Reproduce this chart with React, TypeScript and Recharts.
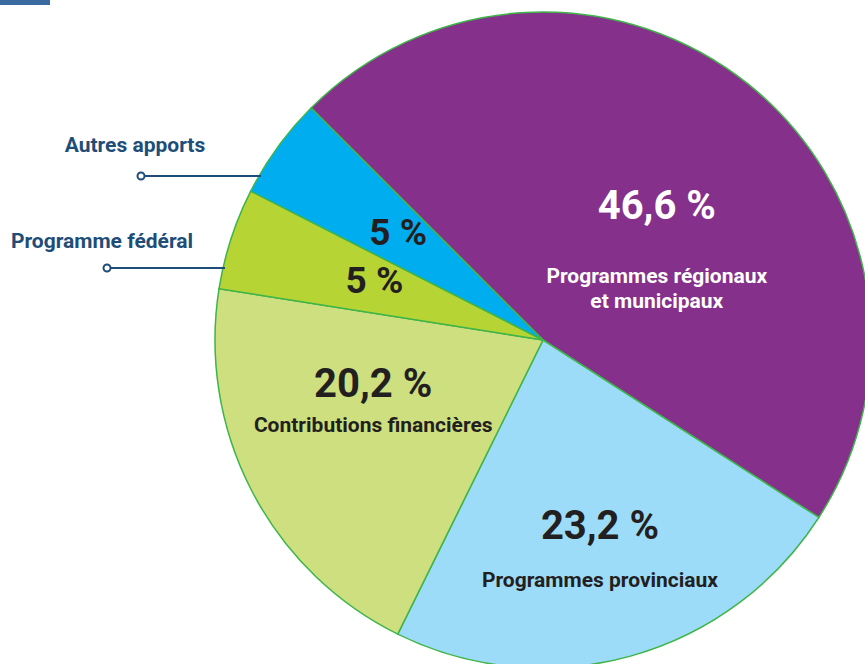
import { PieChart, Pie, Cell } from 'recharts'

// parts of the total, in %
const categories = [
  'Programmes régionaux et municipaux',
  'Programmes provinciaux',
  'Contributions financières',
  'Programme fédéral',
  'Autres apports',
]
const shares = [46.6, 23.2, 20.2, 5, 5]
const shareLabels = ['46,6 %', '23,2 %', '20,2 %', '5 %', '5 %']
const innerCaptions = [['Programmes régionaux', 'et municipaux'], ['Programmes provinciaux'], ['Contributions financières'], [], []]
const sideCaptions = ['', '', '', 'Programme fédéral', 'Autres apports']

const colors = ['#85308b', '#9ddcf8', '#cddf7e', '#b6d433', '#00aeef']
const textColors = ['#ffffff', '#231f20', '#231f20', '#231f20', '#231f20']

// label placement: radius and angle shift from mid angle
const labelPos = [
  { r: 166, dA: -4.4, size: 40, gaps: [64, 89] },
  { r: 207, dA: 0.5, size: 40, gaps: [48] },
  { r: 179, dA: -8.9, size: 40, gaps: [35] },
  { r: 175, dA: 2.5, size: 37, gaps: [] },
  { r: 173, dA: 2.8, size: 37, gaps: [] },
]
// side captions: text anchor and leader line height
const sidePos = [null, null, null, { tx: 102, ty: 248, ly: 268, lx: 107 }, { tx: 135, ty: 152, ly: 176, lx: 141 }]

const data = categories.map((name, i) => ({ name, value: shares[i] }))

const RAD = Math.PI / 180
const FONT = 'Roboto, "Noto Sans", sans-serif'
const NAVY = '#1e4d78'
const CAPTION = 21

function renderLabel(props: any) {
  const { cx, cy, midAngle, outerRadius, index } = props
  const p = labelPos[index]
  const a = (midAngle + p.dA) * RAD
  const x = cx + p.r * Math.cos(a)
  const y = cy - p.r * Math.sin(a)
  const side = sidePos[index]
  let sideEl = null
  if (side) {
    const dy = side.ly - cy
    const ex = cx - Math.sqrt(outerRadius * outerRadius - dy * dy)
    sideEl = (
      <g>
        <text x={side.tx} y={side.ty} textAnchor="middle" fill={NAVY} fontSize={CAPTION} fontWeight={700} fontFamily={FONT}>
          {sideCaptions[index]}
        </text>
        <line x1={side.lx} y1={side.ly} x2={ex + 2} y2={side.ly} stroke={NAVY} strokeWidth={2} />
        <circle cx={side.lx} cy={side.ly} r={3.5} fill="#fff" stroke={NAVY} strokeWidth={2} />
      </g>
    )
  }
  return (
    <g key={`lbl-${index}`}>
      <text x={x} y={y} textAnchor="middle" fill={textColors[index]} fontSize={p.size} fontWeight={700} fontFamily={FONT}>
        {shareLabels[index]}
      </text>
      {innerCaptions[index].map((line, j) => (
        <text key={j} x={x} y={y + p.gaps[j]} textAnchor="middle" fill={textColors[index]} fontSize={CAPTION} fontWeight={700} fontFamily={FONT}>
          {line}
        </text>
      ))}
      {sideEl}
    </g>
  )
}

export default function App() {
  return (
    <div style={{ position: 'absolute', left: 0, top: 0, width: 865, height: 664, background: '#fff', overflow: 'hidden' }}>
      <div style={{ position: 'absolute', left: 0, top: 0, width: 50, height: 5, background: '#3a6a9f' }} />
      <PieChart width={865} height={664} margin={{ top: 0, right: 0, bottom: 0, left: 0 }}>
        <Pie
          data={data}
          dataKey="value"
          cx={543}
          cy={340}
          outerRadius={328}
          startAngle={135}
          endAngle={-225}
          stroke="#3fb449"
          strokeWidth={1.5}
          label={renderLabel}
          labelLine={false}
          isAnimationActive={false}
        >
          {data.map((d, i) => (
            <Cell key={d.name} fill={colors[i]} />
          ))}
        </Pie>
      </PieChart>
    </div>
  )
}
